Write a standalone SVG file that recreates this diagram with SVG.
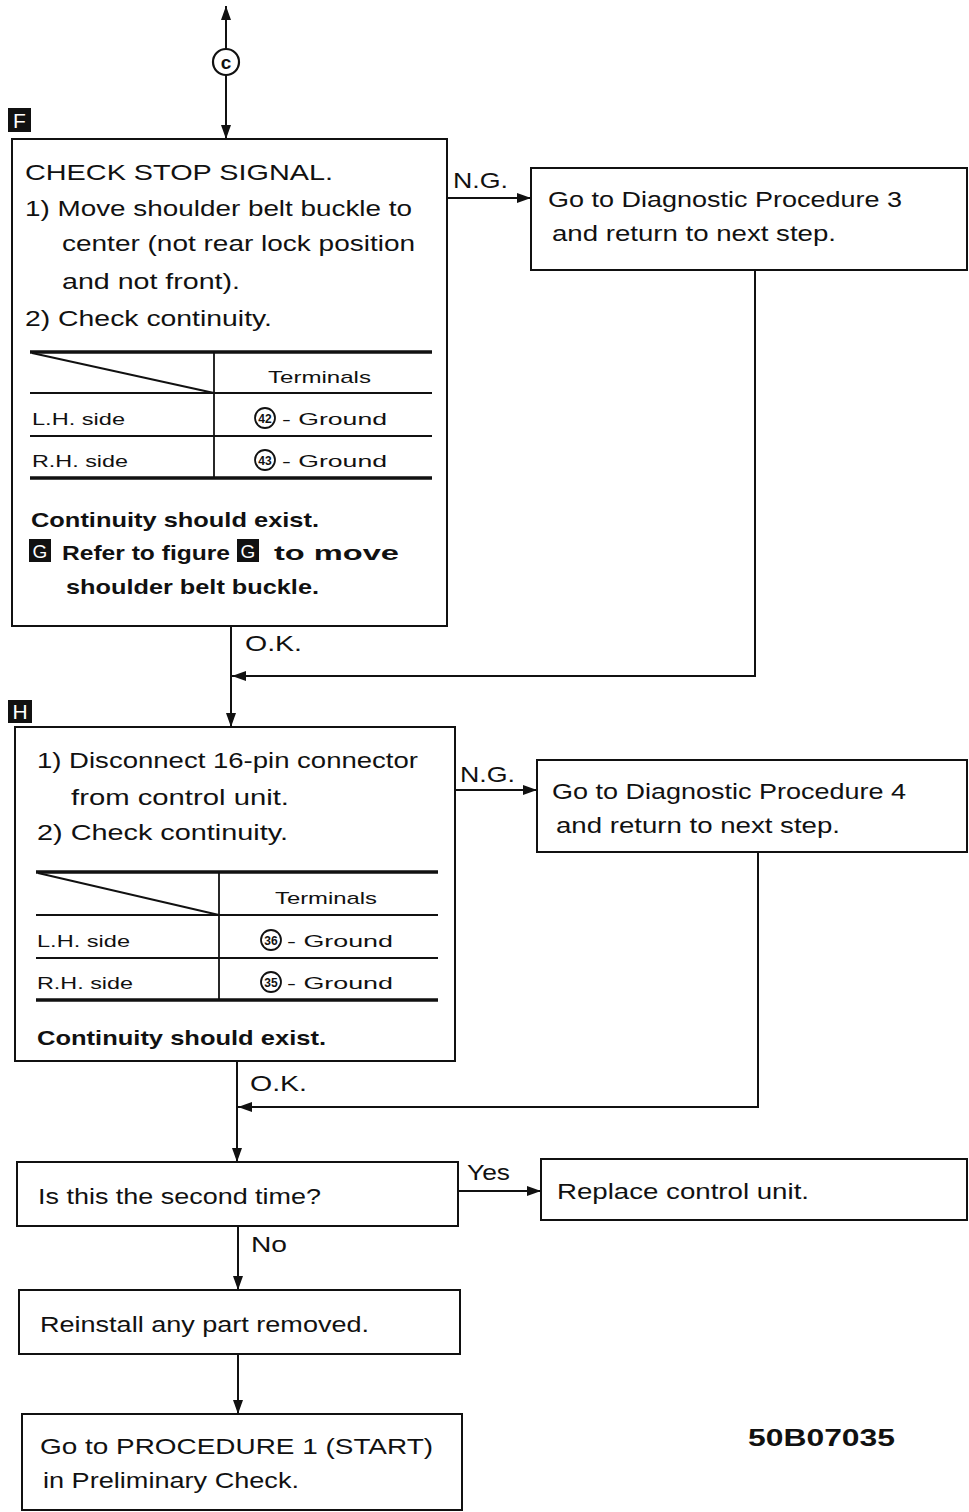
<svg xmlns="http://www.w3.org/2000/svg" width="969" height="1512" viewBox="0 0 969 1512">
<style>
text{font-family:"Liberation Sans",Arial,sans-serif;fill:#111}
.t{font-size:22px}
.b{font-size:21px;font-weight:bold}
.s{font-size:17px}
.n{font-size:12px;font-weight:bold;text-anchor:middle}
.box{fill:#fff;stroke:#111;stroke-width:2}
.ln{stroke:#111;stroke-width:2;fill:none}
.th{stroke:#111;stroke-width:3.5;fill:none}
.tn{stroke:#111;stroke-width:1.8;fill:none}
.mk{fill:#111}
.mt{fill:#fff;font-size:21px;text-anchor:middle}
.cc{fill:#fff;stroke:#111;stroke-width:1.8}
</style>
<defs>
<marker id="ahb" viewBox="0 0 14 10" refX="14" refY="5" markerWidth="14" markerHeight="10" markerUnits="userSpaceOnUse" orient="auto">
<path d="M0,0 L14,5 L0,10 z" fill="#111"/>
</marker>
</defs>
<rect width="969" height="1512" fill="#fff"/>

<g id="connectors">
<line class="ln" x1="226" y1="49" x2="226" y2="6" marker-end="url(#ahb)"/>
<line class="ln" x1="226" y1="75" x2="226" y2="139" marker-end="url(#ahb)"/>
<line class="ln" x1="447" y1="198" x2="531" y2="198" marker-end="url(#ahb)"/>
<polyline class="ln" points="755,270 755,676 232,676" marker-end="url(#ahb)"/>
<line class="ln" x1="231" y1="626" x2="231" y2="727" marker-end="url(#ahb)"/>
<line class="ln" x1="455" y1="790" x2="537" y2="790" marker-end="url(#ahb)"/>
<polyline class="ln" points="758,852 758,1107 238,1107" marker-end="url(#ahb)"/>
<line class="ln" x1="237" y1="1061" x2="237" y2="1162" marker-end="url(#ahb)"/>
<line class="ln" x1="458" y1="1191" x2="541" y2="1191" marker-end="url(#ahb)"/>
<line class="ln" x1="238" y1="1226" x2="238" y2="1290" marker-end="url(#ahb)"/>
<line class="ln" x1="238" y1="1354" x2="238" y2="1414" marker-end="url(#ahb)"/>
<text class="t" x="453" y="188" textLength="55" lengthAdjust="spacingAndGlyphs">N.G.</text>
<text class="t" x="245" y="651" textLength="57" lengthAdjust="spacingAndGlyphs">O.K.</text>
<text class="t" x="460" y="782" textLength="55" lengthAdjust="spacingAndGlyphs">N.G.</text>
<text class="t" x="250" y="1091" textLength="57" lengthAdjust="spacingAndGlyphs">O.K.</text>
<text class="t" x="467" y="1180" textLength="43" lengthAdjust="spacingAndGlyphs">Yes</text>
<text class="t" x="251" y="1252" textLength="36" lengthAdjust="spacingAndGlyphs">No</text>
</g>

<g id="connectorC">
<circle cx="226" cy="62" r="13" class="cc" style="stroke-width:2.2"/>
<text x="226" y="69" style="font-size:19px;font-weight:bold;text-anchor:middle">c</text>
</g>

<g id="nodeF">
<rect class="mk" x="8" y="108" width="23" height="24"/>
<text class="mt" x="19.5" y="128">F</text>
<rect class="box" x="12" y="139" width="435" height="487"/>
<text class="t" x="25" y="180" textLength="308" lengthAdjust="spacingAndGlyphs">CHECK  STOP  SIGNAL.</text>
<text class="t" x="25" y="216" textLength="387" lengthAdjust="spacingAndGlyphs">1) Move shoulder belt buckle to</text>
<text class="t" x="62" y="251" textLength="353" lengthAdjust="spacingAndGlyphs">center (not rear lock position</text>
<text class="t" x="62" y="289" textLength="178" lengthAdjust="spacingAndGlyphs">and not front).</text>
<text class="t" x="25" y="326" textLength="247" lengthAdjust="spacingAndGlyphs">2) Check continuity.</text>
<line class="th" x1="30" y1="352" x2="432" y2="352"/>
<line class="tn" x1="32" y1="353" x2="214" y2="393"/>
<line class="tn" x1="214" y1="352" x2="214" y2="478"/>
<line class="tn" x1="30" y1="393" x2="432" y2="393"/>
<line class="tn" x1="30" y1="436" x2="432" y2="436"/>
<line class="th" x1="30" y1="478" x2="432" y2="478"/>
<text class="s" x="268" y="383" textLength="103" lengthAdjust="spacingAndGlyphs">Terminals</text>
<text class="s" x="32" y="425" textLength="93" lengthAdjust="spacingAndGlyphs">L.H. side</text>
<text class="s" x="32" y="467" textLength="96" lengthAdjust="spacingAndGlyphs">R.H. side</text>
<circle class="cc" cx="265" cy="418" r="10"/>
<text class="n" x="265" y="422.5">42</text>
<text class="s" x="282" y="425" textLength="105" lengthAdjust="spacingAndGlyphs">- Ground</text>
<circle class="cc" cx="265" cy="460" r="10"/>
<text class="n" x="265" y="464.5">43</text>
<text class="s" x="282" y="467" textLength="105" lengthAdjust="spacingAndGlyphs">- Ground</text>
<text class="b" x="31" y="527" textLength="288" lengthAdjust="spacingAndGlyphs">Continuity should exist.</text>
<rect class="mk" x="29" y="539" width="22" height="23"/>
<text class="mt" x="40" y="558" style="font-size:19px">G</text>
<text class="b" x="62" y="560" textLength="168" lengthAdjust="spacingAndGlyphs">Refer to figure</text>
<rect class="mk" x="237" y="539" width="22" height="23"/>
<text class="mt" x="248" y="558" style="font-size:19px">G</text>
<text class="b" x="274" y="560" textLength="125" lengthAdjust="spacingAndGlyphs">to move</text>
<text class="b" x="66" y="594" textLength="253" lengthAdjust="spacingAndGlyphs">shoulder belt buckle.</text>
</g>

<g id="nodeDP3">
<rect class="box" x="531" y="168" width="436" height="102"/>
<text class="t" x="548" y="207" textLength="354" lengthAdjust="spacingAndGlyphs">Go to Diagnostic Procedure 3</text>
<text class="t" x="552" y="241" textLength="284" lengthAdjust="spacingAndGlyphs">and return to next step.</text>
</g>

<g id="nodeH">
<rect class="mk" x="8" y="700" width="24" height="23"/>
<text class="mt" x="20" y="719">H</text>
<rect class="box" x="15" y="727" width="440" height="334"/>
<text class="t" x="37" y="768" textLength="381" lengthAdjust="spacingAndGlyphs">1) Disconnect 16-pin connector</text>
<text class="t" x="71" y="805" textLength="218" lengthAdjust="spacingAndGlyphs">from control unit.</text>
<text class="t" x="37" y="840" textLength="251" lengthAdjust="spacingAndGlyphs">2) Check continuity.</text>
<line class="th" x1="36" y1="872" x2="438" y2="872"/>
<line class="tn" x1="38" y1="873" x2="219" y2="915"/>
<line class="tn" x1="219" y1="872" x2="219" y2="1000"/>
<line class="tn" x1="36" y1="915" x2="438" y2="915"/>
<line class="tn" x1="36" y1="958" x2="438" y2="958"/>
<line class="th" x1="36" y1="1000" x2="438" y2="1000"/>
<text class="s" x="275" y="904" textLength="102" lengthAdjust="spacingAndGlyphs">Terminals</text>
<text class="s" x="37" y="947" textLength="93" lengthAdjust="spacingAndGlyphs">L.H. side</text>
<text class="s" x="37" y="989" textLength="96" lengthAdjust="spacingAndGlyphs">R.H. side</text>
<circle class="cc" cx="271" cy="940" r="10"/>
<text class="n" x="271" y="944.5">36</text>
<text class="s" x="287" y="947" textLength="106" lengthAdjust="spacingAndGlyphs">- Ground</text>
<circle class="cc" cx="271" cy="982" r="10"/>
<text class="n" x="271" y="986.5">35</text>
<text class="s" x="287" y="989" textLength="106" lengthAdjust="spacingAndGlyphs">- Ground</text>
<text class="b" x="37" y="1045" textLength="289" lengthAdjust="spacingAndGlyphs">Continuity should exist.</text>
</g>

<g id="nodeDP4">
<rect class="box" x="537" y="760" width="430" height="92"/>
<text class="t" x="552" y="799" textLength="354" lengthAdjust="spacingAndGlyphs">Go to Diagnostic Procedure 4</text>
<text class="t" x="556" y="833" textLength="284" lengthAdjust="spacingAndGlyphs">and return to next step.</text>
</g>

<g id="nodeSecond">
<rect class="box" x="17" y="1162" width="441" height="64"/>
<text class="t" x="38" y="1204" textLength="283" lengthAdjust="spacingAndGlyphs">Is this the second time?</text>
</g>

<g id="nodeReplace">
<rect class="box" x="541" y="1159" width="426" height="61"/>
<text class="t" x="557" y="1199" textLength="252" lengthAdjust="spacingAndGlyphs">Replace control unit.</text>
</g>

<g id="nodeReinstall">
<rect class="box" x="19" y="1290" width="441" height="64"/>
<text class="t" x="40" y="1332" textLength="329" lengthAdjust="spacingAndGlyphs">Reinstall any part removed.</text>
</g>

<g id="nodeProc1">
<rect class="box" x="22" y="1414" width="440" height="96"/>
<text class="t" x="40" y="1454" textLength="393" lengthAdjust="spacingAndGlyphs">Go to PROCEDURE 1 (START)</text>
<text class="t" x="43" y="1488" textLength="256" lengthAdjust="spacingAndGlyphs">in Preliminary Check.</text>
</g>

<text x="748" y="1446" style="font-size:24px;font-weight:bold" textLength="147" lengthAdjust="spacingAndGlyphs">50B07035</text>
</svg>
